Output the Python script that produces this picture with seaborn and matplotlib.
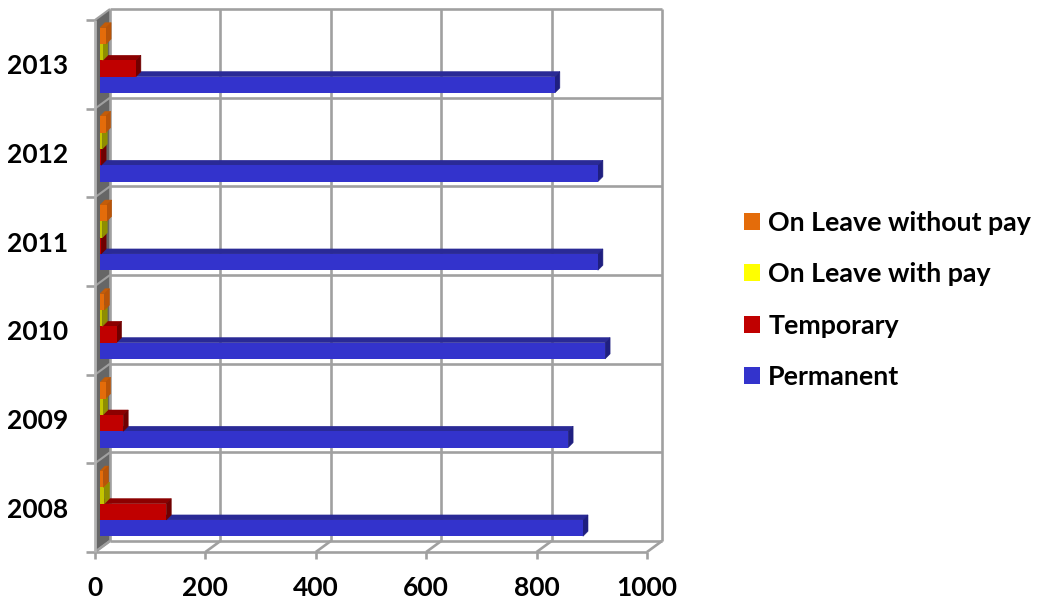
import matplotlib

matplotlib.use("Agg")
import matplotlib.pyplot as plt
import pandas as pd
import seaborn as sns
from matplotlib.patches import Patch, Polygon
from matplotlib.transforms import Affine2D

years = ["2013", "2012", "2011", "2010", "2009", "2008"]
without_pay = [11, 10, 12, 8, 10, 6]
with_pay = [5, 4, 4, 4, 5, 8]
temporary = [65, 2, 2, 30, 42, 120]
permanent = [824, 902, 902, 915, 848, 875]

statuses = ["On Leave without pay", "On Leave with pay", "Temporary", "Permanent"]
x_ticks = [0, 200, 400, 600, 800, 1000]

front_colors = ["#e46c0a", "#ffff00", "#c00000", "#3333cc"]
bar_colors = ["#e46c0a", "#c4c400", "#c00000", "#3333cc"]
top_colors = ["#c45c08", "#a8a800", "#8c0000", "#2a2a96"]
side_colors = ["#b85408", "#8e8e00", "#700000", "#1f1f80"]

GRID = "#a0a0a0"
WALL = "#666666"
DEPTH_X, DEPTH_Y = 15, 11  # wall depth in pixels
SHIFT_X, SHIFT_Y = 5, 4  # bars sit this far behind the front plane
BAR_DEPTH = 5

df = pd.DataFrame(
    {
        "year": years * 4,
        "status": [s for s in statuses for _ in years],
        "value": without_pay + with_pay + temporary + permanent,
    }
)

W, H = 1039, 603
plt.rcParams["font.family"] = ["Lato", "DejaVu Sans"]
plt.rcParams["font.weight"] = "bold"
fig = plt.figure(figsize=(W / 100, H / 100), dpi=100)
ax = fig.add_axes([95 / W, 1 - 552 / H, 552 / W, 532 / H])

sns.barplot(
    data=df,
    y="year",
    x="value",
    hue="status",
    order=years,
    hue_order=statuses,
    palette=bar_colors,
    saturation=1,
    width=0.735,
    gap=0,
    orient="h",
    legend=False,
    ax=ax,
)
ax.set_xlim(0, 1000)
ax.set_ylim(len(years) - 0.5, -0.5)
ax.set_xticks(x_ticks)
ax.set_xlabel("")
ax.set_ylabel("")
ax.patch.set_visible(False)
for spine in ax.spines.values():
    spine.set_visible(False)
ax.tick_params(axis="both", length=0, labelsize=19, colors="black")
ax.tick_params(axis="x", pad=17)
ax.tick_params(axis="y", pad=19)
for label in ax.get_xticklabels() + ax.get_yticklabels():
    label.set_fontweight("bold")

data = ax.transData
back = data + Affine2D().translate(DEPTH_X, DEPTH_Y)
bands = [i - 0.5 for i in range(len(years) + 1)]


def frame_line(xs, ys, trans, color=GRID, lw=1.9, z=1):
    ax.plot(xs, ys, color=color, lw=lw, transform=trans, clip_on=False, zorder=z, solid_capstyle="butt")


def between_planes(x, y):
    # pixel line from the front plane to the back wall
    x0, y0 = data.transform((x, y))
    return [x0, x0 + DEPTH_X], [y0, y0 + DEPTH_Y]


# left wall
x0, y_bottom = data.transform((0, bands[-1]))
_, y_top = data.transform((0, bands[0]))
ax.add_patch(
    Polygon(
        [
            (x0, y_bottom),
            (x0 + DEPTH_X, y_bottom + DEPTH_Y),
            (x0 + DEPTH_X, y_top + DEPTH_Y),
            (x0, y_top),
        ],
        closed=True,
        facecolor=WALL,
        edgecolor="none",
        transform=None,
        clip_on=False,
        zorder=0.5,
    )
)

# back wall grid and floor
for tick in x_ticks:
    frame_line([tick, tick], [bands[0], bands[-1]], back)
    xs, ys = between_planes(tick, bands[-1])
    frame_line(xs, ys, None)
    px, py = data.transform((tick, bands[-1]))
    frame_line([px, px], [py, py - 7], None)
for y in bands:
    frame_line([0, 1000], [y, y], back)
    xs, ys = between_planes(0, y)
    frame_line(xs, ys, None, lw=1.5)
    px, py = data.transform((0, y))
    frame_line([px - 9, px], [py, py], None)
frame_line([0, 1000], [bands[-1], bands[-1]], data)
frame_line([0, 0], [bands[0], bands[-1]], data, color="#b4b4b4", lw=2)

# extrude the seaborn bars so they read as the 3-D columns
# upper series stack on top, so red hides the top face of the blue bar
bar_plane = data + Affine2D().translate(SHIFT_X, SHIFT_Y)
for i, (container, top_c, side_c) in enumerate(zip(ax.containers, top_colors, side_colors)):
    z = 7 - i
    for bar in container:
        bar.set_transform(bar_plane)
        bar.set_linewidth(0)
        bar.set_zorder(z + 0.5)
        (x1, y1), (x2, y2) = bar_plane.transform(
            [(bar.get_x(), bar.get_y() + bar.get_height()), (bar.get_x() + bar.get_width(), bar.get_y())]
        )
        d = BAR_DEPTH
        ax.add_patch(
            Polygon(
                [(x1, y2), (x2, y2), (x2 + d, y2 + d), (x1 + d, y2 + d)],
                facecolor=top_c,
                edgecolor=top_c,
                lw=0.4,
                transform=None,
                clip_on=False,
                zorder=z,
            )
        )
        ax.add_patch(
            Polygon(
                [(x2, y1), (x2, y2), (x2 + d, y2 + d), (x2 + d, y1 + d)],
                facecolor=side_c,
                edgecolor=side_c,
                lw=0.4,
                transform=None,
                clip_on=False,
                zorder=z,
            )
        )

handles = [Patch(facecolor=c, edgecolor="none") for c in front_colors]
fig.legend(
    handles,
    statuses,
    loc="center left",
    bbox_to_anchor=(738 / W, 1 - 300 / H),
    frameon=False,
    fontsize=19.3,
    handlelength=0.6,
    handleheight=0.6,
    handletextpad=0.3,
    labelspacing=1.02,
    borderpad=0,
    borderaxespad=0.23,
)

fig.savefig("out.png", dpi=100)
